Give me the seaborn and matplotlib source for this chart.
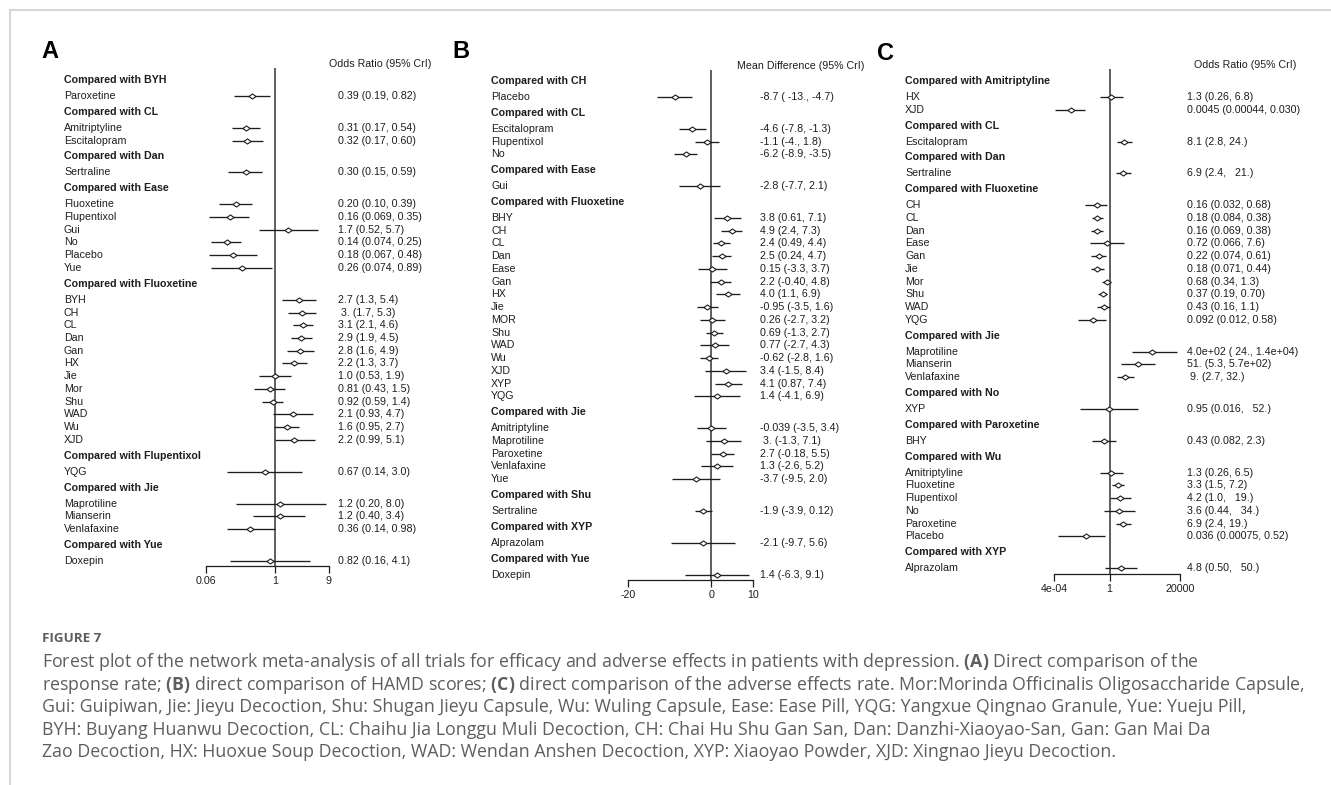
import matplotlib
matplotlib.use("Agg")
import matplotlib.pyplot as plt
from matplotlib.lines import Line2D
from matplotlib.ticker import NullLocator, FixedLocator, FixedFormatter
import matplotlib.transforms as mtransforms
import numpy as np
import pandas as pd
import seaborn as sns

# ---------------- data ----------------
# Panel A: response rate, odds ratio (95% CrI)
a_group = (["BYH"] + ["CL"] * 2 + ["Dan"] + ["Ease"] * 6 + ["Fluoxetine"] * 12
           + ["Flupentixol"] + ["Jie"] * 3 + ["Yue"])
a_names = ["Paroxetine",
           "Amitriptyline", "Escitalopram",
           "Sertraline",
           "Fluoxetine", "Flupentixol", "Gui", "No", "Placebo", "Yue",
           "BYH", "CH", "CL", "Dan", "Gan", "HX", "Jie", "Mor", "Shu", "WAD", "Wu", "XJD",
           "YQG",
           "Maprotiline", "Mianserin", "Venlafaxine",
           "Doxepin"]
a_est = [0.39, 0.31, 0.32, 0.30, 0.20, 0.16, 1.7, 0.14, 0.18, 0.26,
         2.7, 3.0, 3.1, 2.9, 2.8, 2.2, 1.0, 0.81, 0.92, 2.1, 1.6, 2.2,
         0.67, 1.2, 1.2, 0.36, 0.82]
a_lo = [0.19, 0.17, 0.17, 0.15, 0.10, 0.069, 0.52, 0.074, 0.067, 0.074,
        1.3, 1.7, 2.1, 1.9, 1.6, 1.3, 0.53, 0.43, 0.59, 0.93, 0.95, 0.99,
        0.14, 0.20, 0.40, 0.14, 0.16]
a_hi = [0.82, 0.54, 0.60, 0.59, 0.39, 0.35, 5.7, 0.25, 0.48, 0.89,
        5.4, 5.3, 4.6, 4.5, 4.9, 3.7, 1.9, 1.5, 1.4, 4.7, 2.7, 5.1,
        3.0, 8.0, 3.4, 0.98, 4.1]
a_text = ["0.39 (0.19, 0.82)", "0.31 (0.17, 0.54)", "0.32 (0.17, 0.60)",
          "0.30 (0.15, 0.59)", "0.20 (0.10, 0.39)", "0.16 (0.069, 0.35)",
          "1.7 (0.52, 5.7)", "0.14 (0.074, 0.25)", "0.18 (0.067, 0.48)",
          "0.26 (0.074, 0.89)", "2.7 (1.3, 5.4)", " 3. (1.7, 5.3)",
          "3.1 (2.1, 4.6)", "2.9 (1.9, 4.5)", "2.8 (1.6, 4.9)", "2.2 (1.3, 3.7)",
          "1.0 (0.53, 1.9)", "0.81 (0.43, 1.5)", "0.92 (0.59, 1.4)",
          "2.1 (0.93, 4.7)", "1.6 (0.95, 2.7)", "2.2 (0.99, 5.1)",
          "0.67 (0.14, 3.0)", "1.2 (0.20, 8.0)", "1.2 (0.40, 3.4)",
          "0.36 (0.14, 0.98)", "0.82 (0.16, 4.1)"]
a_ticks = [0.06, 1, 9]
a_ticklabels = ["0.06", "1", "9"]

# Panel B: HAMD scores, mean difference (95% CrI)
b_group = (["CH"] + ["CL"] * 3 + ["Ease"] + ["Fluoxetine"] * 15 + ["Jie"] * 5
           + ["Shu"] + ["XYP"] + ["Yue"])
b_names = ["Placebo",
           "Escitalopram", "Flupentixol", "No",
           "Gui",
           "BHY", "CH", "CL", "Dan", "Ease", "Gan", "HX", "Jie", "MOR", "Shu",
           "WAD", "Wu", "XJD", "XYP", "YQG",
           "Amitriptyline", "Maprotiline", "Paroxetine", "Venlafaxine", "Yue",
           "Sertraline", "Alprazolam", "Doxepin"]
b_est = [-8.7, -4.6, -1.1, -6.2, -2.8,
         3.8, 4.9, 2.4, 2.5, 0.15, 2.2, 4.0, -0.95, 0.26, 0.69, 0.77, -0.62,
         3.4, 4.1, 1.4,
         -0.039, 3.0, 2.7, 1.3, -3.7, -1.9, -2.1, 1.4]
b_lo = [-13.0, -7.8, -4.0, -8.9, -7.7,
        0.61, 2.4, 0.49, 0.24, -3.3, -0.40, 1.1, -3.5, -2.7, -1.3, -2.7, -2.8,
        -1.5, 0.87, -4.1,
        -3.5, -1.3, -0.18, -2.6, -9.5, -3.9, -9.7, -6.3]
b_hi = [-4.7, -1.3, 1.8, -3.5, 2.1,
        7.1, 7.3, 4.4, 4.7, 3.7, 4.8, 6.9, 1.6, 3.2, 2.7, 4.3, 1.6,
        8.4, 7.4, 6.9,
        3.4, 7.1, 5.5, 5.2, 2.0, 0.12, 5.6, 9.1]
b_text = ["-8.7 ( -13., -4.7)", "-4.6 (-7.8, -1.3)", "-1.1 (-4., 1.8)",
          "-6.2 (-8.9, -3.5)", "-2.8 (-7.7, 2.1)",
          "3.8 (0.61, 7.1)", "4.9 (2.4, 7.3)", "2.4 (0.49, 4.4)",
          "2.5 (0.24, 4.7)", "0.15 (-3.3, 3.7)", "2.2 (-0.40, 4.8)",
          "4.0 (1.1, 6.9)", "-0.95 (-3.5, 1.6)", "0.26 (-2.7, 3.2)",
          "0.69 (-1.3, 2.7)", "0.77 (-2.7, 4.3)", "-0.62 (-2.8, 1.6)",
          "3.4 (-1.5, 8.4)", "4.1 (0.87, 7.4)", "1.4 (-4.1, 6.9)",
          "-0.039 (-3.5, 3.4)", " 3. (-1.3, 7.1)", "2.7 (-0.18, 5.5)",
          "1.3 (-2.6, 5.2)", "-3.7 (-9.5, 2.0)", "-1.9 (-3.9, 0.12)",
          "-2.1 (-9.7, 5.6)", "1.4 (-6.3, 9.1)"]
b_ticks = [-20, 0, 10]
b_ticklabels = ["-20", "0", "10"]

# Panel C: adverse effects rate, odds ratio (95% CrI)
c_group = (["Amitriptyline"] * 2 + ["CL"] + ["Dan"] + ["Fluoxetine"] * 10
           + ["Jie"] * 3 + ["No"] + ["Paroxetine"] + ["Wu"] * 6 + ["XYP"])
c_names = ["HX", "XJD",
           "Escitalopram",
           "Sertraline",
           "CH", "CL", "Dan", "Ease", "Gan", "Jie", "Mor", "Shu", "WAD", "YQG",
           "Maprotiline", "Mianserin", "Venlafaxine",
           "XYP",
           "BHY",
           "Amitriptyline", "Fluoxetine", "Flupentixol", "No", "Paroxetine", "Placebo",
           "Alprazolam"]
c_est = [1.3, 0.0045, 8.1, 6.9,
         0.16, 0.18, 0.16, 0.72, 0.22, 0.18, 0.68, 0.37, 0.43, 0.092,
         400.0, 51.0, 9.0, 0.95, 0.43,
         1.3, 3.3, 4.2, 3.6, 6.9, 0.036, 4.8]
c_lo = [0.26, 0.00044, 2.8, 2.4,
        0.032, 0.084, 0.069, 0.066, 0.074, 0.071, 0.34, 0.19, 0.16, 0.012,
        24.0, 5.3, 2.7, 0.016, 0.082,
        0.26, 1.5, 1.0, 0.44, 2.4, 0.00075, 0.50]
c_hi = [6.8, 0.030, 24.0, 21.0,
        0.68, 0.38, 0.38, 7.6, 0.61, 0.44, 1.3, 0.70, 1.1, 0.58,
        14000.0, 570.0, 32.0, 52.0, 2.3,
        6.5, 7.2, 19.0, 34.0, 19.0, 0.52, 50.0]
c_text = ["1.3 (0.26, 6.8)", "0.0045 (0.00044, 0.030)", "8.1 (2.8, 24.)",
          "6.9 (2.4,   21.)",
          "0.16 (0.032, 0.68)", "0.18 (0.084, 0.38)", "0.16 (0.069, 0.38)",
          "0.72 (0.066, 7.6)", "0.22 (0.074, 0.61)", "0.18 (0.071, 0.44)",
          "0.68 (0.34, 1.3)", "0.37 (0.19, 0.70)", "0.43 (0.16, 1.1)",
          "0.092 (0.012, 0.58)",
          "4.0e+02 ( 24., 1.4e+04)", "51. (5.3, 5.7e+02)", " 9. (2.7, 32.)",
          "0.95 (0.016,   52.)", "0.43 (0.082, 2.3)",
          "1.3 (0.26, 6.5)", "3.3 (1.5, 7.2)", "4.2 (1.0,   19.)",
          "3.6 (0.44,   34.)", "6.9 (2.4, 19.)", "0.036 (0.00075, 0.52)",
          "4.8 (0.50,   50.)"]
c_ticks = [4e-4, 1, 20000]
c_ticklabels = ["4e-04", "1", "20000"]

caption_head = "FIGURE 7"
caption_lines = [
    r"Forest plot of the network meta-analysis of all trials for efficacy and adverse effects in patients with depression. $\mathbf{(A)}$ Direct comparison of the",
    r"response rate; $\mathbf{(B)}$ direct comparison of HAMD scores; $\mathbf{(C)}$ direct comparison of the adverse effects rate. Mor:Morinda Officinalis Oligosaccharide Capsule,",
    "Gui: Guipiwan, Jie: Jieyu Decoction, Shu: Shugan Jieyu Capsule, Wu: Wuling Capsule, Ease: Ease Pill, YQG: Yangxue Qingnao Granule, Yue: Yueju Pill,",
    "BYH: Buyang Huanwu Decoction, CL: Chaihu Jia Longgu Muli Decoction, CH: Chai Hu Shu Gan San, Dan: Danzhi-Xiaoyao-San, Gan: Gan Mai Da",
    "Zao Decoction, HX: Huoxue Soup Decoction, WAD: Wendan Anshen Decoction, XYP: Xiaoyao Powder, XJD: Xingnao Jieyu Decoction.",
]

# ---------------- style ----------------
sns.set_theme(style="white")
plt.rcParams["font.family"] = ["Liberation Sans", "DejaVu Sans"]
plt.rcParams["mathtext.fontset"] = "custom"
plt.rcParams["mathtext.rm"] = "Open Sans"
plt.rcParams["mathtext.bf"] = "Open Sans:bold"

W, H = 1331, 785
fig = plt.figure(figsize=(W / 100, H / 100), dpi=100)
fig.patch.set_facecolor("white")

INK = "#1e1e1e"
FS = 7.7
UNIT = 12.74  # pixels per row step
diamond = [(-1.0, 0.0), (0.0, 0.72), (1.0, 0.0), (0.0, -0.72), (-1.0, 0.0)]


def fx(px):
    return px / W


def fy(py):
    return 1 - py / H


def row_positions(groups):
    pos, headers = [], []
    y = 0.0
    prev = None
    for g in groups:
        if g != prev:
            if prev is not None:
                y += 1.25
            headers.append((g, y))
            y += 1.25
            prev = g
        else:
            y += 1.0
        pos.append(y)
    return pos, headers


def forest(groups, names, est, lo, hi, texts, log, ticks, ticklabels, ref,
           x0, x1, top, axis_y, first, label_x, value_x,
           head, head_x, head_y, letter, letter_xy):
    ax = fig.add_axes([fx(x0), fy(axis_y), (x1 - x0) / W, (axis_y - top) / H])
    pos, headers = row_positions(groups)
    df = pd.DataFrame({"name": names, "est": est, "lo": lo, "hi": hi,
                       "pos": pos, "text": texts})
    if log:
        ax.set_xscale("log")
    ax.hlines(df["pos"], df["lo"], df["hi"], color=INK, lw=0.95, zorder=2,
              clip_on=False)
    sns.scatterplot(data=df, x="est", y="pos", ax=ax, marker=diamond, s=26,
                    color="white", edgecolor=INK, linewidth=0.8, zorder=3,
                    legend=False, clip_on=False)
    ax.axvline(ref, color="#333333", lw=1.1, zorder=1)
    ax.set_xlim(ticks[0], ticks[-1])
    ax.set_ylim((axis_y - first) / UNIT, (top - first) / UNIT)
    ax.xaxis.set_major_locator(FixedLocator(ticks))
    ax.xaxis.set_major_formatter(FixedFormatter(ticklabels))
    ax.xaxis.set_minor_locator(NullLocator())
    ax.set_yticks([])
    ax.set_xlabel("")
    ax.set_ylabel("")
    ax.set_facecolor("none")
    for s in ("left", "right", "top"):
        ax.spines[s].set_visible(False)
    ax.spines["bottom"].set_color(INK)
    ax.spines["bottom"].set_linewidth(0.9)
    ax.tick_params(axis="x", direction="out", length=5, width=0.9, pad=2.5,
                   labelsize=FS, colors=INK, bottom=True)

    tr = mtransforms.blended_transform_factory(fig.transFigure, ax.transData)
    for g, y in headers:
        ax.text(fx(label_x), y, "Compared with " + g, transform=tr,
                fontsize=FS, fontweight="bold", color=INK, va="center",
                ha="left", clip_on=False)
    for _, r in df.iterrows():
        ax.text(fx(label_x), r["pos"], r["name"], transform=tr, fontsize=FS,
                color=INK, va="center", ha="left", clip_on=False)
        ax.text(fx(value_x), r["pos"], r["text"], transform=tr, fontsize=FS,
                color=INK, va="center", ha="left", clip_on=False)
    fig.text(fx(head_x), fy(head_y), head, fontsize=FS, color=INK,
             ha="center", va="center")
    fig.text(fx(letter_xy[0]), fy(letter_xy[1]), letter, fontsize=17,
             fontweight="bold", color="black", ha="center", va="center")
    return ax


forest(a_group, a_names, a_est, a_lo, a_hi, a_text, True, a_ticks,
       a_ticklabels, 1, 206, 329, 68, 566, 80, 64, 338,
       "Odds Ratio (95% CrI)", 380, 64, "A", (50, 52))
forest(b_group, b_names, b_est, b_lo, b_hi, b_text, False, b_ticks,
       b_ticklabels, 0, 628, 753, 70, 580, 81, 491, 760,
       "Mean Difference (95% CrI)", 801, 66, "B", (461, 52))
forest(c_group, c_names, c_est, c_lo, c_hi, c_text, True, c_ticks,
       c_ticklabels, 1, 1054, 1180, 69, 574, 81, 905, 1187,
       "Odds Ratio (95% CrI)", 1245, 65, "C", (886, 53))

# page frame
frame = "#d6d6d6"
fig.add_artist(Line2D([fx(10), fx(10)], [0, fy(10)], transform=fig.transFigure,
                      color=frame, lw=1.5))
fig.add_artist(Line2D([fx(10), 1], [fy(10), fy(10)], transform=fig.transFigure,
                      color=frame, lw=1.5))

# caption
CAP = "#5e5e5e"
fig.text(fx(42), fy(639), caption_head, fontsize=9.6, fontweight="bold",
         family=["Open Sans", "DejaVu Sans"], color=CAP, ha="left", va="center")
for i, line in enumerate(caption_lines):
    fig.text(fx(42), fy(662 + 22.6 * i), line, fontsize=12.8,
             family=["Open Sans", "DejaVu Sans"], color=CAP, ha="left",
             va="center")

fig.savefig("out.png", dpi=100, facecolor="white")
